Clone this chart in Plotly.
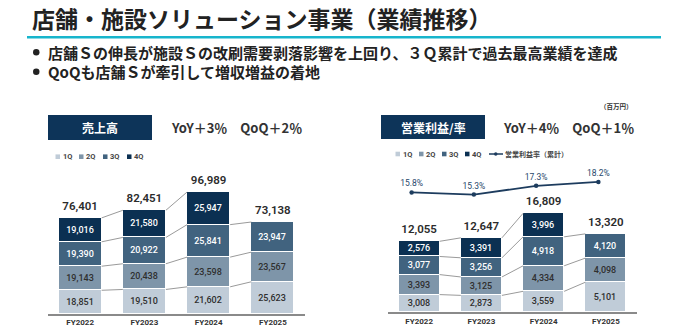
import plotly.graph_objects as go

# ---------------- data ----------------
years = ["FY2022", "FY2023", "FY2024", "FY2025"]
quarters = ["1Q", "2Q", "3Q", "4Q"]

sales_1q = [18851, 19510, 21602, 25623]
sales_2q = [19143, 20438, 23598, 23567]
sales_3q = [19390, 20922, 25841, 23947]
sales_4q = [19016, 21580, 25947, None]
sales_total = [76401, 82451, 96989, 73138]

op_1q = [3008, 2873, 3559, 5101]
op_2q = [3393, 3125, 4334, 4098]
op_3q = [3077, 3256, 4918, 4120]
op_4q = [2576, 3391, 3996, None]
op_total = [12055, 12647, 16809, 13320]

op_margin = [15.8, 15.3, 17.3, 18.2]

title_text = "店舗・施設ソリューション事業（業績推移）"
bullet_1 = "店舗Ｓの伸長が施設Ｓの改刷需要剥落影響を上回り、３Ｑ累計で過去最高業績を達成"
bullet_2 = "QoQも店舗Ｓが牽引して増収増益の着地"
left_header = "売上高"
right_header = "営業利益/率"
left_growth = "YoY＋3％　QoQ＋2％"
right_growth = "YoY＋4％　QoQ＋1％"
unit_text = "（百万円）"
line_name = "営業利益率（累計）"

# ---------------- style ----------------
W, H = 691, 335
q_colors = ["#c0ccd8", "#7e95a9", "#41637f", "#0b3052"]
q_text = ["#2f2f2f", "#2f2f2f", "#ffffff", "#ffffff"]
navy = "#0d3459"
line_col = "#1d3c5e"
conn_col = "#9a9a9a"
txt_dark = "#2b2b2b"
NUMFONT = "Roboto, Liberation Sans, Arial"
JPFONT = "Noto Sans CJK JP"

def px_x(p):
    return p / W

def px_y(p):
    return 1 - p / H

fig = go.Figure()

idx = list(range(len(years)))


def add_stack(series_list, xa, ya, width, fsize):
    for q, vals in enumerate(series_list):
        fig.add_trace(go.Bar(
            x=idx, y=[v if v is not None else 0 for v in vals],
            width=width,
            marker=dict(color=q_colors[q], line=dict(color="white", width=1)),
            text=[f"{v:,}" if v is not None else "" for v in vals],
            textposition="inside", insidetextanchor="middle",
            textangle=0, constraintext="none",
            textfont=dict(color=q_text[q], size=fsize, family=NUMFONT, weight=500),
            xaxis=xa, yaxis=ya, showlegend=False, hoverinfo="skip",
        ))
    # connector lines between cumulative levels
    cx, cy = [], []
    for q in range(len(series_list)):
        cum = []
        for i in idx:
            vals = [series_list[k][i] for k in range(q + 1)]
            cum.append(None if any(v is None for v in vals) else sum(vals))
        for i in idx[:-1]:
            if cum[i] is not None and cum[i + 1] is not None:
                cx += [i + width / 2, i + 1 - width / 2, None]
                cy += [cum[i], cum[i + 1], None]
    fig.add_trace(go.Scatter(
        x=cx, y=cy, mode="lines", line=dict(color=conn_col, width=1),
        xaxis=xa, yaxis=ya, showlegend=False, hoverinfo="skip"))


def add_totals(totals, xa, ya):
    fig.add_trace(go.Scatter(
        x=idx, y=totals, mode="markers+text",
        marker=dict(size=7, color="rgba(0,0,0,0)"),
        text=[f"{v:,}" for v in totals], textposition="top center",
        textfont=dict(size=11.5, color=txt_dark, family=NUMFONT, weight=600),
        xaxis=xa, yaxis=ya, showlegend=False, hoverinfo="skip", cliponaxis=False))


add_stack([sales_1q, sales_2q, sales_3q, sales_4q], "x", "y", 0.67, 9)
add_totals(sales_total, "x", "y")
add_stack([op_1q, op_2q, op_3q, op_4q], "x2", "y2", 0.66, 9)
add_totals(op_total, "x2", "y2")

fig.add_trace(go.Scatter(
    x=idx, y=op_margin, mode="lines+markers+text",
    line=dict(color=line_col, width=1.8),
    marker=dict(color=line_col, size=4.5),
    text=[f"{v:.1f}%" for v in op_margin], textposition="top center",
    textfont=dict(size=8.5, color="#27476b", family=NUMFONT),
    xaxis="x3", yaxis="y3", showlegend=False, hoverinfo="skip", cliponaxis=False))

tickfont = dict(size=8, color="#333333", family=NUMFONT, weight="bold")
common_x = dict(range=[-0.5, 3.5], tickvals=idx, ticktext=years, showgrid=False,
                zeroline=False, showline=True, linecolor="#8a8a8a", linewidth=1.5,
                ticks="", tickfont=tickfont, fixedrange=True)

fig.update_layout(
    width=W, height=H, margin=dict(l=0, r=0, t=0, b=0),
    paper_bgcolor="white", plot_bgcolor="rgba(0,0,0,0)",
    barmode="stack", bargap=0, showlegend=False,
    font=dict(family=JPFONT, color=txt_dark),
    xaxis=dict(domain=[px_x(48), px_x(305)], anchor="y", **common_x),
    yaxis=dict(domain=[px_y(314), px_y(170)], range=[0, 114479], visible=False, anchor="x"),
    xaxis2=dict(domain=[px_x(388), px_x(637)], anchor="y2", **common_x),
    yaxis2=dict(domain=[px_y(312.3), px_y(170)], range=[0, 24161], visible=False, anchor="x2"),
    xaxis3=dict(domain=[px_x(380.5), px_x(629.5)], range=[-0.5, 3.5], visible=False, anchor="y3"),
    yaxis3=dict(domain=[px_y(312.3), px_y(170)], range=[-11.85, 20.96], visible=False, anchor="x3"),
)

shapes = []
ann = []

def text(x, y, s, size, color=txt_dark, xanchor="left", bold=True, family=JPFONT):
    ann.append(dict(x=px_x(x), y=px_y(y), xref="paper", yref="paper", text=s,
                    showarrow=False, xanchor=xanchor, yanchor="middle",
                    font=dict(size=size, color=color, family=family,
                              weight="bold" if bold else "normal")))

# title + rule
text(30, 18, title_text, 23, color="#222222")
shapes.append(dict(type="line", xref="paper", yref="paper", x0=px_x(27), x1=px_x(661),
                   y0=px_y(37.3), y1=px_y(37.3), line=dict(color="#17b5cc", width=2.5)))
# bullets
for yy, s in [(52.3, bullet_1), (71.7, bullet_2)]:
    shapes.append(dict(type="circle", xref="paper", yref="paper",
                       x0=px_x(33), x1=px_x(39.5), y0=px_y(yy - 3.2), y1=px_y(yy + 3.2),
                       fillcolor="#222222", line=dict(width=0)))
    text(46, yy, s, 15, color="#222222")

# headers
for (x0, x1, y0, y1, lab) in [(48, 152, 115, 140, left_header), (381, 485, 115, 139, right_header)]:
    shapes.append(dict(type="rect", xref="paper", yref="paper", x0=px_x(x0), x1=px_x(x1),
                       y0=px_y(y1), y1=px_y(y0), fillcolor=navy, line=dict(width=0)))
    text((x0 + x1) / 2, (y0 + y1) / 2, lab, 12, color="white", xanchor="center")
text(169, 127.5, left_growth, 13, color="#333333")
text(501, 127, right_growth, 13, color="#333333")
text(616, 106, unit_text, 6.5, color="#333333", xanchor="center")

# legends
def legend_sq(x, y, q):
    shapes.append(dict(type="rect", xref="paper", yref="paper", x0=px_x(x), x1=px_x(x + 4.5),
                       y0=px_y(y + 2.3), y1=px_y(y - 2.3), fillcolor=q_colors[q], line=dict(width=0)))
    text(x + 5, y, quarters[q], 7.5, color="#444444", family=NUMFONT)

for q, xx in enumerate([55.5, 79, 103, 127]):
    legend_sq(xx, 156.7, q)
for q, xx in enumerate([395.5, 419, 442, 465]):
    legend_sq(xx, 154, q)
shapes.append(dict(type="line", xref="paper", yref="paper", x0=px_x(489), x1=px_x(503),
                   y0=px_y(154), y1=px_y(154), line=dict(color=line_col, width=1.5)))
shapes.append(dict(type="circle", xref="paper", yref="paper", x0=px_x(494), x1=px_x(497.5),
                   y0=px_y(155.8), y1=px_y(152.2), fillcolor=line_col, line=dict(width=0)))
text(503, 154, line_name, 7, color="#444444")

fig.update_layout(shapes=shapes, annotations=ann)
fig.write_html("out.html")
